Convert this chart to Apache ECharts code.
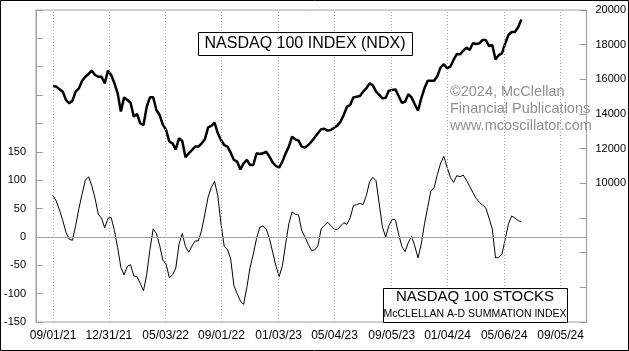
<!DOCTYPE html>
<html>
<head>
<meta charset="utf-8">
<script src="https://cdn.jsdelivr.net/npm/echarts@6.0.0/dist/echarts.min.js"></script>
<style>
  html, body { margin: 0; padding: 0; background: #fff; }
  #chart { width: 629px; height: 351px; }
</style>
</head>
<body>
<div id="chart"></div>
<script>
// weekly samples starting 09/01/21
const startYear = 2021, startMonth = 8, startDay = 1
const stepDays = 7

// NASDAQ 100 index (right axis)
const ndx = [
  15600, 15580, 15420, 15290, 14810, 14620, 14770, 15290, 15480, 15920,
  16150, 16310, 16500, 16250, 16150, 16150, 15770, 16500, 16250, 15770,
  15190, 14140, 14960, 14810, 14650, 13850, 14000, 13460, 13370, 14420,
  14960, 14960, 14230, 13940, 13370, 13080, 12400, 12310, 11960, 12600,
  12440, 11500, 11730, 11920, 12120, 12120, 12310, 12540, 13230, 13310,
  13500, 12890, 12500, 12210, 12120, 11770, 11350, 11250, 10800, 11150,
  11350, 11060, 11060, 11730, 11690, 11730, 11830, 11540, 11210, 11000,
  10900, 11250, 11730, 12120, 12690, 12540, 12460, 12120, 12060, 12210,
  12400, 12640, 12890, 13120, 13150, 13040, 13080, 13210, 13330, 13560,
  13940, 14420, 14520, 14960, 15000, 15040, 15290, 15480, 15770, 15650,
  15290, 15100, 14900, 14940, 15350, 15390, 15420, 15040, 14650, 14710,
  15140, 14960, 14560, 14190, 14900, 15480, 15920, 15920, 15920, 16190,
  16690, 16870, 16640, 16730, 17120, 17460, 17440, 17650, 17830, 17690,
  18080, 18040, 18080, 18270, 18270, 17920, 17980, 17150, 17400, 17500,
  18080, 18560, 18730, 18730, 19000, 19450
]

// McClellan A-D summation index (left axis)
const summation = [
  73, 63, 47, 29, 8, -4, -6, 20, 50, 76,
  100, 106, 90, 68, 40, 33, 16, 33, 34, 11,
  -19, -54, -67, -52, -49, -69, -70, -82, -95, -66,
  -22, 14, 6, -15, -41, -48, -72, -67, -55, -13,
  6, -17, -27, -16, -7, -7, 12, 40, 70, 87,
  98, 73, 23, -17, -22, -39, -86, -100, -113, -119,
  -89, -54, -30, -3, 17, 19, 14, -3, -27, -51,
  -70, -51, -13, 23, 44, 40, 39, 11, 0, -13,
  -24, -23, -16, 14, 20, 26, 20, 14, 13, 19,
  25, 22, 34, 55, 57, 59, 57, 73, 97, 105,
  99, 58, 17, 0, 20, 31, 30, 5, -17, -26,
  -10, 1, -16, -37, -13, 23, 52, 81, 87, 110,
  130, 142, 123, 105, 96, 108, 106, 109, 100, 89,
  78, 68, 61, 56, 51, 33, 14, -37, -36, -30,
  -4, 23, 37, 33, 29, 26
]

// x axis labels
const tickDates = [
  [2021, 9, 1], [2021, 12, 31], [2022, 5, 3], [2022, 9, 1], [2023, 1, 3],
  [2023, 5, 4], [2023, 9, 5], [2024, 1, 4], [2024, 5, 6], [2024, 9, 5]
]

const dates = ndx.map((v, i) => new Date(startYear, startMonth, startDay + i * stepDays).getTime())
const tickValues = tickDates.map(d => new Date(d[0], d[1] - 1, d[2]).getTime())

const gray = '#a0a0a0'
const font = 'Liberation Sans, Arial, sans-serif'

function pad(n) {
  return (n < 10 ? '0' : '') + n
}

const chart = echarts.init(document.getElementById('chart'))
chart.setOption({
  animation: false,
  backgroundColor: '#fff',
  grid: {
    left: 36,
    right: 42,
    top: 10,
    bottom: 29,
    show: true,
    borderColor: gray,
    borderWidth: 1
  },
  xAxis: {
    type: 'value',
    min: new Date(2021, 6, 26).getTime(),
    max: new Date(2024, 9, 31).getTime(),
    axisLine: { lineStyle: { color: gray } },
    axisTick: { show: false, customValues: tickValues },
    splitLine: { show: false },
    axisLabel: {
      customValues: tickValues,
      color: '#000',
      fontFamily: font,
      fontSize: 12,
      margin: 8,
      formatter(v) {
        const d = new Date(v)
        return pad(d.getMonth() + 1) + '/' + pad(d.getDate()) + '/' + pad(d.getFullYear() % 100)
      }
    }
  },
  yAxis: [{
    type: 'value',
    position: 'left',
    min: -150,
    max: 400,
    interval: 50,
    axisLine: { show: true, lineStyle: { color: gray } },
    axisTick: { show: true, inside: true, length: 7, lineStyle: { color: gray } },
    splitLine: { show: false },
    axisLabel: {
      color: '#000',
      fontFamily: font,
      fontSize: 11,
      margin: 10,
      formatter(v) {
        return v <= 150 ? String(v) : ''
      }
    }
  }, {
    type: 'value',
    position: 'right',
    min: 2000,
    max: 20000,
    interval: 2000,
    axisLine: { show: true, lineStyle: { color: gray } },
    axisTick: { show: true, inside: true, length: 7, lineStyle: { color: gray } },
    splitLine: { show: false },
    axisLabel: {
      color: '#000',
      fontFamily: font,
      fontSize: 11,
      margin: 9,
      formatter(v) {
        return v >= 10000 ? String(v) : ''
      }
    }
  }],
  series: [{
    name: 'Summation',
    type: 'line',
    yAxisIndex: 0,
    showSymbol: false,
    data: dates.map((d, i) => [d, summation[i]]),
    lineStyle: { color: '#000', width: 1 },
    markLine: {
      silent: true,
      symbol: 'none',
      label: { show: false },
      lineStyle: { color: gray, type: 'solid', width: 1 },
      data: [{ yAxis: 0 }]
    }
  }, {
    name: 'NDX',
    type: 'line',
    yAxisIndex: 1,
    showSymbol: false,
    data: dates.map((d, i) => [d, ndx[i]]),
    lineStyle: { color: '#000', width: 2.5 },
    // dotted date gridlines
    markLine: {
      silent: true,
      symbol: 'none',
      label: { show: false },
      lineStyle: { color: gray, type: [1, 2], width: 1 },
      data: tickValues.map(v => ({ xAxis: v }))
    }
  }],
  graphic: [
    {
      type: 'rect', z: 100,
      shape: { x: 198.5, y: 32.5, width: 214, height: 23 },
      style: { fill: '#fff', stroke: '#000', lineWidth: 1 }
    },
    {
      type: 'text', z: 101, x: 305, y: 44,
      style: { text: 'NASDAQ 100 INDEX (NDX)', font: '16px ' + font, fill: '#000', textAlign: 'center', textVerticalAlign: 'middle' }
    },
    {
      type: 'rect', z: 100,
      shape: { x: 383.5, y: 288.5, width: 184, height: 34 },
      style: { fill: '#fff', stroke: '#000', lineWidth: 1 }
    },
    {
      type: 'text', z: 101, x: 475, y: 297,
      style: { text: 'NASDAQ 100 STOCKS', font: '15px ' + font, fill: '#000', textAlign: 'center', textVerticalAlign: 'middle' }
    },
    {
      type: 'text', z: 101, x: 475, y: 314,
      style: { text: 'McCLELLAN A-D SUMMATION INDEX', font: '10.5px ' + font, fill: '#000', textAlign: 'center', textVerticalAlign: 'middle' }
    },
    {
      type: 'text', z: 101, x: 450, y: 92,
      style: { text: '©2024, McClellan', font: '14.5px ' + font, fill: '#909090', textVerticalAlign: 'middle' }
    },
    {
      type: 'text', z: 101, x: 450, y: 109,
      style: { text: 'Financial Publications', font: '14.5px ' + font, fill: '#909090', textVerticalAlign: 'middle' }
    },
    {
      type: 'text', z: 101, x: 450, y: 126,
      style: { text: 'www.mcoscillator.com', font: '14.5px ' + font, fill: '#909090', textVerticalAlign: 'middle' }
    },
    {
      type: 'rect', z: 102,
      shape: { x: 0.5, y: 0.5, width: 628, height: 350 },
      style: { fill: 'none', stroke: '#000', lineWidth: 1 }
    }
  ]
})
</script>
</body>
</html>
